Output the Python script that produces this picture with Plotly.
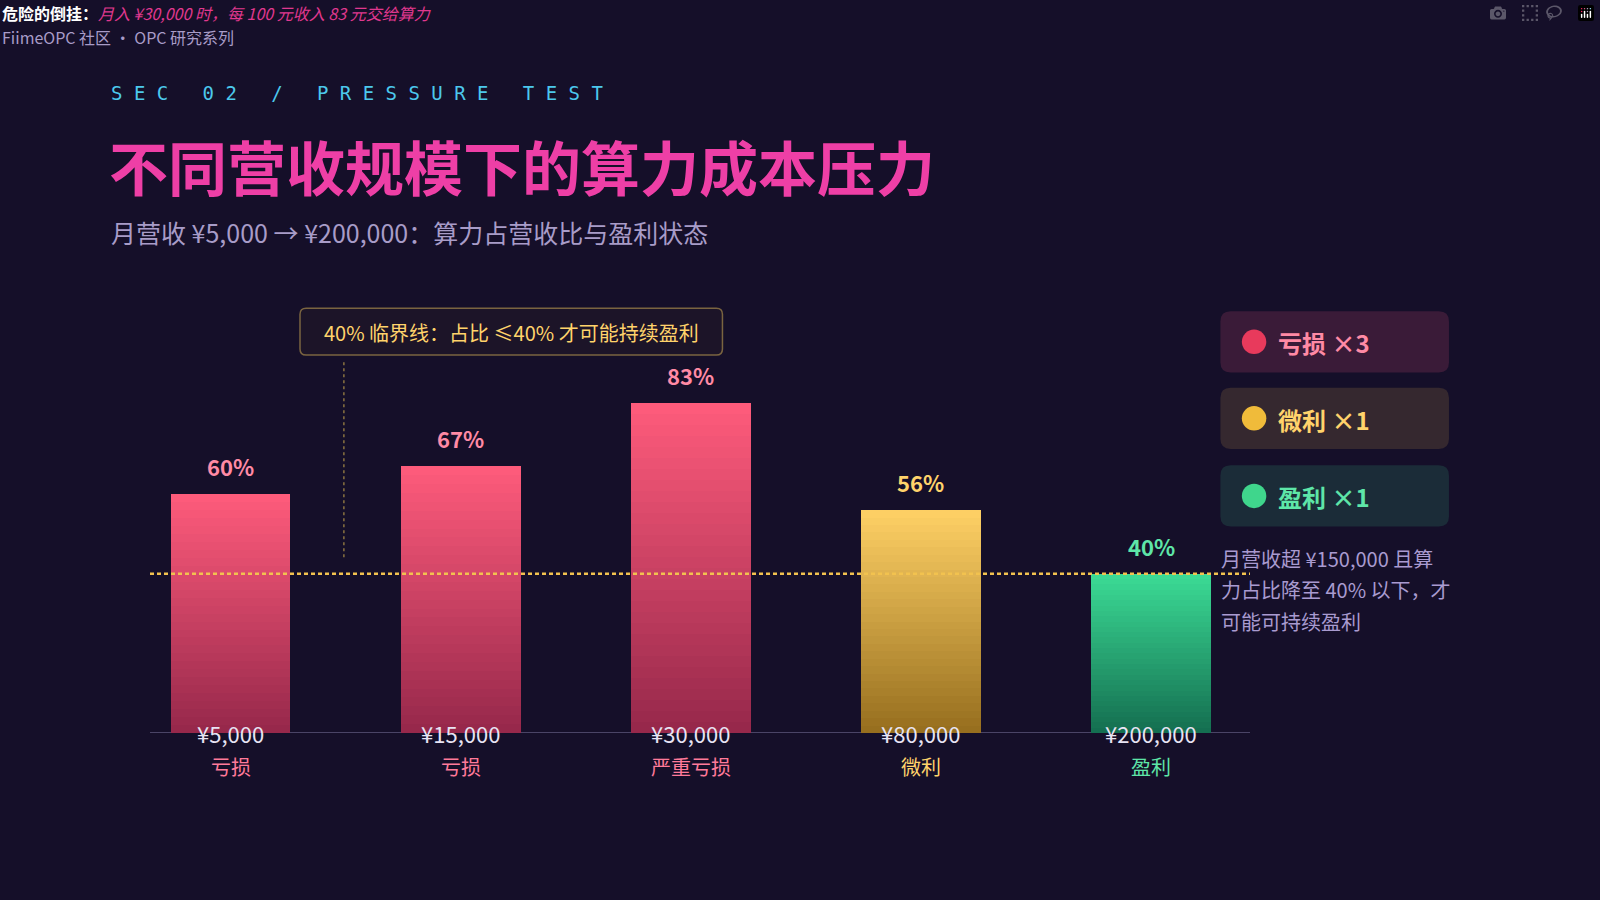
import plotly.graph_objects as go

revenue = ["¥5,000", "¥15,000", "¥30,000", "¥80,000", "¥200,000"]
share = [60, 67, 83, 56, 40]
status = ["亏损", "亏损", "严重亏损", "微利", "盈利"]
kind = ["loss", "loss", "loss", "thin", "profit"]
threshold = 40
legend_labels = ["亏损 ×3", "微利 ×1", "盈利 ×1"]

W, H = 1600, 900
S = 1600 / 1568
L, R, T, B = 150, 350, 335, 167
PW, PH = W - L - R, H - T - B

def px(x): return (x * S - L) / PW
def py(y): return 1 - (y * S - T) / PH

top_col = {"loss": (255, 92, 124), "thin": (255, 209, 102), "profit": (60, 220, 150)}
bot_col = {"loss": (150, 40, 75), "thin": (150, 110, 30), "profit": (20, 110, 80)}
lab_col = {"loss": "#ff8aa5", "thin": "#ffd36b", "profit": "#5ee6a8"}
sub_col = {"loss": "#ff7a9a", "thin": "#ffd36b", "profit": "#5ee6a8"}

fig = go.Figure()
N = 30
for k in range(N):
    ys = [v / N for v in share]
    cols = []
    for kd in kind:
        t = (k + 0.5) / N
        a, b = bot_col[kd], top_col[kd]
        c = tuple(int(a[i] + (b[i] - a[i]) * t) for i in range(3))
        cols.append("rgb(%d,%d,%d)" % c)
    fig.add_trace(go.Bar(x=list(range(len(share))), y=ys, width=0.52,
                         marker=dict(color=cols, line=dict(width=0)),
                         hoverinfo="skip", showlegend=False))
fig.update_layout(barmode="stack", bargap=0)

fig.add_shape(type="line", xref="x", yref="y", x0=-0.35, x1=4.43, y0=threshold, y1=threshold,
              line=dict(color="#f2c24f", width=2.5, dash="4px,3px"), layer="above")

for i, v in enumerate(share):
    fig.add_annotation(x=i, y=v, text="<b>%d%%</b>" % v, showarrow=False, yshift=28,
                       font=dict(size=22, color=lab_col[kind[i]], family="Noto Sans CJK SC"))
    fig.add_annotation(x=i, y=0, text=revenue[i], showarrow=False, yshift=0,
                       font=dict(size=22, color="#e8e4f4", family="Noto Sans CJK SC"))
    fig.add_annotation(x=i, y=0, text=status[i], showarrow=False, yshift=-33,
                       font=dict(size=20, color=sub_col[kind[i]], family="Noto Sans CJK SC"))

def txt(x, y, text, size, color, bold=False, family="Noto Sans CJK SC", anchor="left"):
    fig.add_annotation(xref="paper", yref="paper", x=px(x), y=py(y), text=("<b>%s</b>" % text) if bold else text,
                       showarrow=False, xanchor=anchor, yanchor="middle",
                       font=dict(size=size, color=color, family=family))

def rrect(x0, y0, x1, y1, r, fill, line=None):
    X0, X1, Y0, Y1 = px(x0), px(x1), py(y0), py(y1)
    rx, ry = r * S / PW, r * S / PH
    path = (f"M{X0+rx},{Y0} L{X1-rx},{Y0} Q{X1},{Y0} {X1},{Y0-ry} L{X1},{Y1+ry} Q{X1},{Y1} {X1-rx},{Y1} "
            f"L{X0+rx},{Y1} Q{X0},{Y1} {X0},{Y1+ry} L{X0},{Y0-ry} Q{X0},{Y0} {X0+rx},{Y0} Z")
    fig.add_shape(type="path", xref="paper", yref="paper", path=path, fillcolor=fill,
                  line=line or dict(width=0))

sp = "\u2005"
sec = sp.join(list("SEC 02 / PRESSURE TEST"))
txt(0, 13, "<b>危险的倒挂：</b><i><span style='color:#e0388f'>月入 ¥30,000 时，每 100 元收入 83 元交给算力</span></i>", 16, "#ffffff")
txt(0, 36, "FiimeOPC 社区 · OPC 研究系列", 16, "#a89cc8")
txt(107, 91, sec, 19, "#4cc8ec", family="DejaVu Sans Mono")
txt(105, 162, "不同营收规模下的算力成本压力", 59, "#ee3fa6", bold=True)
txt(107, 227, "月营收 ¥5,000 → ¥200,000：算力占营收比与盈利状态", 25, "#a89cc8")

rrect(294, 302, 708, 348, 6, "#1c1428", dict(color="#7a6440", width=1.5))
txt(501, 326, "40% 临界线：占比 ≤40% 才可能持续盈利", 20, "#ffd36b", anchor="center")
fig.add_shape(type="line", xref="paper", yref="paper", x0=px(337), x1=px(337), y0=py(355), y1=py(548),
              line=dict(color="#8a7440", width=1.5, dash="dot"))

boxes = [(305, "#3a1b38", "#e83a5c", "#ff8aa5"), (380, "#35282f", "#f0bb3a", "#ffd36b"), (456, "#1b2c38", "#3fd68c", "#5ee6a8")]
for (y0, fill, dot, tc), lab in zip(boxes, legend_labels):
    rrect(1196, y0, 1420, y0 + 60, 10, fill)
    fig.add_shape(type="circle", xref="paper", yref="paper", x0=px(1217), x1=px(1241), y0=py(y0 + 18), y1=py(y0 + 42),
                  line=dict(width=0), fillcolor=dot)
    txt(1250, y0 + 31, lab, 24, tc, bold=True)

for j, line in enumerate(["月营收超 ¥150,000 且算", "力占比降至 40% 以下，才", "可能可持续盈利"]):
    txt(1195, 547 + j * 31, line, 20, "#a99bd0")

fig.update_layout(
    width=W, height=H, margin=dict(l=L, r=R, t=T, b=B),
    paper_bgcolor="#150f29", plot_bgcolor="#150f29",
    xaxis=dict(range=[-0.35, 4.43], showgrid=False, zeroline=False, showticklabels=False,
               showline=False, fixedrange=True),
    yaxis=dict(range=[0, 100], showgrid=False, zeroline=False, showticklabels=False, fixedrange=True),
)
fig.add_shape(type="line", xref="x", yref="y", x0=-0.35, x1=4.43, y0=0, y1=0,
              line=dict(color="#4a4466", width=2), layer="below")
fig.write_html("out.html")

with open("out.html", encoding="utf-8") as f:
    html = f.read()
html = html.replace("<head>", "<head><style>html,body{margin:0;padding:0;background:#150f29;}</style>", 1)
with open("out.html", "w", encoding="utf-8") as f:
    f.write(html)
